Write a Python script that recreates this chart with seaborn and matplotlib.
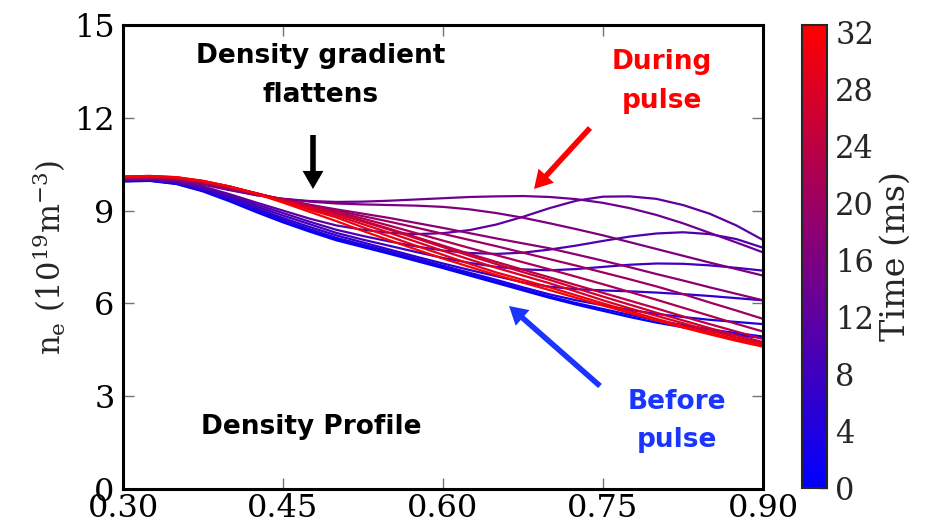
import numpy as np
import pandas as pd
import matplotlib
matplotlib.use("Agg")
import matplotlib.pyplot as plt
from matplotlib.colors import LinearSegmentedColormap, Normalize
from matplotlib.cm import ScalarMappable
import seaborn as sns

# ---------------- data ----------------
rho = [0.300, 0.325, 0.350, 0.375, 0.400, 0.425, 0.450, 0.475, 0.500, 0.525,
       0.550, 0.575, 0.600, 0.625, 0.650, 0.675, 0.700, 0.725, 0.750, 0.775,
       0.800, 0.825, 0.850, 0.875, 0.900]
times = [0, 2, 4, 6, 8, 10, 12, 14, 16, 18, 20, 22, 24, 26, 28, 30, 32]

ne_t0 = [9.94, 9.96, 9.86, 9.62, 9.30, 8.95, 8.62, 8.32, 8.04, 7.82, 7.60, 7.37, 7.14,
         6.90, 6.66, 6.42, 6.18, 5.96, 5.76, 5.56, 5.38, 5.23, 5.10, 4.98, 4.88]
ne_t2 = [9.95, 9.97, 9.87, 9.64, 9.33, 8.99, 8.66, 8.36, 8.08, 7.86, 7.64, 7.41, 7.18,
         6.94, 6.70, 6.46, 6.22, 6.01, 5.82, 5.63, 5.45, 5.30, 5.16, 5.04, 4.93]
ne_t4 = [9.96, 9.98, 9.89, 9.66, 9.36, 9.03, 8.70, 8.40, 8.12, 7.90, 7.68, 7.45, 7.22,
         6.99, 6.76, 6.52, 6.29, 6.10, 5.94, 5.79, 5.66, 5.56, 5.47, 5.40, 5.33]
ne_t6 = [9.97, 9.99, 9.90, 9.69, 9.40, 9.08, 8.76, 8.47, 8.20, 7.97, 7.74, 7.51, 7.29,
         7.08, 6.88, 6.68, 6.54, 6.46, 6.42, 6.39, 6.35, 6.30, 6.24, 6.17, 6.10]
ne_t8 = [9.98, 10.00, 9.92, 9.72, 9.45, 9.14, 8.84, 8.56, 8.28, 8.06, 7.86, 7.66, 7.47,
         7.31, 7.18, 7.10, 7.07, 7.11, 7.18, 7.25, 7.29, 7.28, 7.23, 7.15, 7.06]
ne_t10 = [9.99, 10.01, 9.93, 9.75, 9.49, 9.20, 8.92, 8.64, 8.38, 8.18, 8.00, 7.84, 7.71,
          7.63, 7.60, 7.64, 7.74, 7.87, 8.02, 8.16, 8.26, 8.30, 8.24, 8.08, 7.80]
ne_t12 = [10.00, 10.02, 9.95, 9.78, 9.53, 9.26, 9.00, 8.74, 8.52, 8.38, 8.28, 8.24, 8.27,
          8.37, 8.55, 8.80, 9.08, 9.32, 9.45, 9.46, 9.38, 9.18, 8.90, 8.52, 8.05]
ne_t14 = [10.02, 10.04, 9.98, 9.84, 9.66, 9.50, 9.38, 9.31, 9.28, 9.29, 9.32, 9.36, 9.40,
          9.44, 9.46, 9.47, 9.44, 9.37, 9.25, 9.08, 8.86, 8.59, 8.28, 7.97, 7.65]
ne_t16 = [10.03, 10.05, 9.99, 9.86, 9.68, 9.50, 9.38, 9.29, 9.23, 9.20, 9.18, 9.16, 9.12,
          9.04, 8.92, 8.77, 8.59, 8.40, 8.20, 7.98, 7.76, 7.54, 7.32, 7.11, 6.90]
ne_t18 = [10.04, 10.06, 10.01, 9.88, 9.71, 9.52, 9.35, 9.19, 9.04, 8.90, 8.76, 8.60, 8.44,
          8.27, 8.10, 7.94, 7.78, 7.58, 7.38, 7.17, 6.95, 6.74, 6.52, 6.31, 6.10]
ne_t20 = [10.05, 10.07, 10.02, 9.90, 9.73, 9.54, 9.36, 9.18, 9.00, 8.82, 8.64, 8.45, 8.25,
          8.05, 7.85, 7.64, 7.43, 7.22, 7.00, 6.78, 6.55, 6.30, 6.03, 5.77, 5.50]
ne_t22 = [10.06, 10.08, 10.04, 9.92, 9.75, 9.55, 9.36, 9.15, 8.96, 8.74, 8.51, 8.27, 8.03,
          7.79, 7.56, 7.33, 7.10, 6.86, 6.62, 6.37, 6.12, 5.86, 5.60, 5.34, 5.09]
ne_t24 = [10.07, 10.09, 10.05, 9.93, 9.76, 9.56, 9.35, 9.13, 8.93, 8.67, 8.41, 8.14, 7.87,
          7.60, 7.34, 7.09, 6.84, 6.59, 6.34, 6.09, 5.84, 5.58, 5.33, 5.09, 4.85]
ne_t26 = [10.08, 10.10, 10.06, 9.94, 9.77, 9.56, 9.34, 9.11, 8.90, 8.64, 8.38, 8.10, 7.82,
          7.54, 7.27, 7.01, 6.76, 6.49, 6.22, 5.96, 5.70, 5.45, 5.20, 4.97, 4.75]
ne_t28 = [10.09, 10.11, 10.07, 9.95, 9.78, 9.56, 9.32, 9.07, 8.84, 8.56, 8.28, 7.99, 7.70,
          7.42, 7.15, 6.90, 6.65, 6.38, 6.10, 5.84, 5.60, 5.36, 5.12, 4.90, 4.70]
ne_t30 = [10.10, 10.12, 10.08, 9.96, 9.78, 9.55, 9.29, 9.03, 8.78, 8.46, 8.16, 7.86, 7.57,
          7.28, 7.00, 6.76, 6.52, 6.26, 6.00, 5.75, 5.50, 5.27, 5.05, 4.84, 4.65]
ne_t32 = [10.10, 10.12, 10.08, 9.96, 9.78, 9.54, 9.26, 8.96, 8.66, 8.34, 8.04, 7.74, 7.45,
          7.18, 6.92, 6.67, 6.43, 6.18, 5.93, 5.69, 5.45, 5.22, 5.00, 4.79, 4.60]

profiles = [ne_t0, ne_t2, ne_t4, ne_t6, ne_t8, ne_t10, ne_t12, ne_t14, ne_t16,
            ne_t18, ne_t20, ne_t22, ne_t24, ne_t26, ne_t28, ne_t30, ne_t32]

xticks = [0.30, 0.45, 0.60, 0.75, 0.90]
xticklabels = ["0.30", "0.45", "0.60", "0.75", "0.90"]
yticks = [0, 3, 6, 9, 12, 15]
cbticks = [0, 4, 8, 12, 16, 20, 24, 28, 32]

# long table for seaborn
rows = []
for t, prof in zip(times, profiles):
    for r, v in zip(rho, prof):
        rows.append({"time": t, "rho": r, "ne": v})
df = pd.DataFrame(rows)

# ---------------- styling ----------------
sns.set_style("ticks")
plt.rcParams["font.family"] = ["DejaVu Serif"]
plt.rcParams["mathtext.fontset"] = "dejavuserif"

W, H = 940, 526
fig = plt.figure(figsize=(W / 100, H / 100), dpi=100)
ax = fig.add_axes([123 / W, 1 - 489 / H, 640 / W, 464 / H])
cax = fig.add_axes([802 / W, 1 - 488 / H, 25 / W, 463 / H])

cmap = LinearSegmentedColormap.from_list("bluered", ["#0000ff", "#ff0000"])
norm = Normalize(vmin=0, vmax=32.5)

sns.lineplot(data=df, x="rho", y="ne", hue="time", units="time", estimator=None,
             palette=cmap, hue_norm=norm, legend=False, linewidth=1.6,
             sort=False, ax=ax)

ax.set_xlim(0.30, 0.90)
ax.set_ylim(0, 15)
ax.set_xticks(xticks)
ax.set_xticklabels(xticklabels)
ax.set_yticks(yticks)
ax.set_xlabel("")
ax.set_ylabel(r"$\mathrm{n_e}\ (10^{19}\mathrm{m}^{-3})$", fontsize=22, labelpad=4)
ax.tick_params(direction="in", length=8, width=1, color="0.45", labelcolor="black",
               labelsize=23, top=True, right=True)
ax.tick_params(axis="x", pad=3)
ax.tick_params(axis="y", pad=6)
for s in ax.spines.values():
    s.set_linewidth(2.2)
    s.set_color("black")

sm = ScalarMappable(norm=norm, cmap=cmap)
sm.set_array([])
cb = fig.colorbar(sm, cax=cax, ticks=cbticks)
cb.set_label("Time (ms)", fontsize=24, labelpad=4)
cax.tick_params(direction="in", length=6, width=1, color="0.2", labelsize=22, pad=6)
cb.outline.set_linewidth(1.5)

# ---------------- annotations ----------------
def fx(px):
    return px / W

def fy(py):
    return 1 - py / H

ann_font = dict(family="DejaVu Sans", weight="bold", fontsize=19, ha="center", va="center")
fig.text(fx(321), fy(56), "Density gradient", color="black", **ann_font)
fig.text(fx(321), fy(95), "flattens", color="black", **ann_font)
fig.text(fx(662), fy(62), "During", color="#ff0000", **ann_font)
fig.text(fx(662), fy(101), "pulse", color="#ff0000", **ann_font)
fig.text(fx(677), fy(402), "Before", color="#1a35ff", **ann_font)
fig.text(fx(677), fy(440), "pulse", color="#1a35ff", **ann_font)
fig.text(fx(311), fy(427), "Density Profile", color="black", **ann_font)

def arrow(x0, y0, x1, y1, color):
    ax.annotate("", xy=(fx(x1), fy(y1)), xytext=(fx(x0), fy(y0)),
                xycoords="figure fraction", textcoords="figure fraction",
                arrowprops=dict(facecolor=color, edgecolor="none", width=4,
                                headwidth=15, headlength=13, shrink=0))

arrow(313, 135, 313, 189, "black")
arrow(590, 128, 534, 189, "#ff0000")
arrow(600, 386, 509, 306, "#1a35ff")

fig.savefig("out.png", dpi=100)
